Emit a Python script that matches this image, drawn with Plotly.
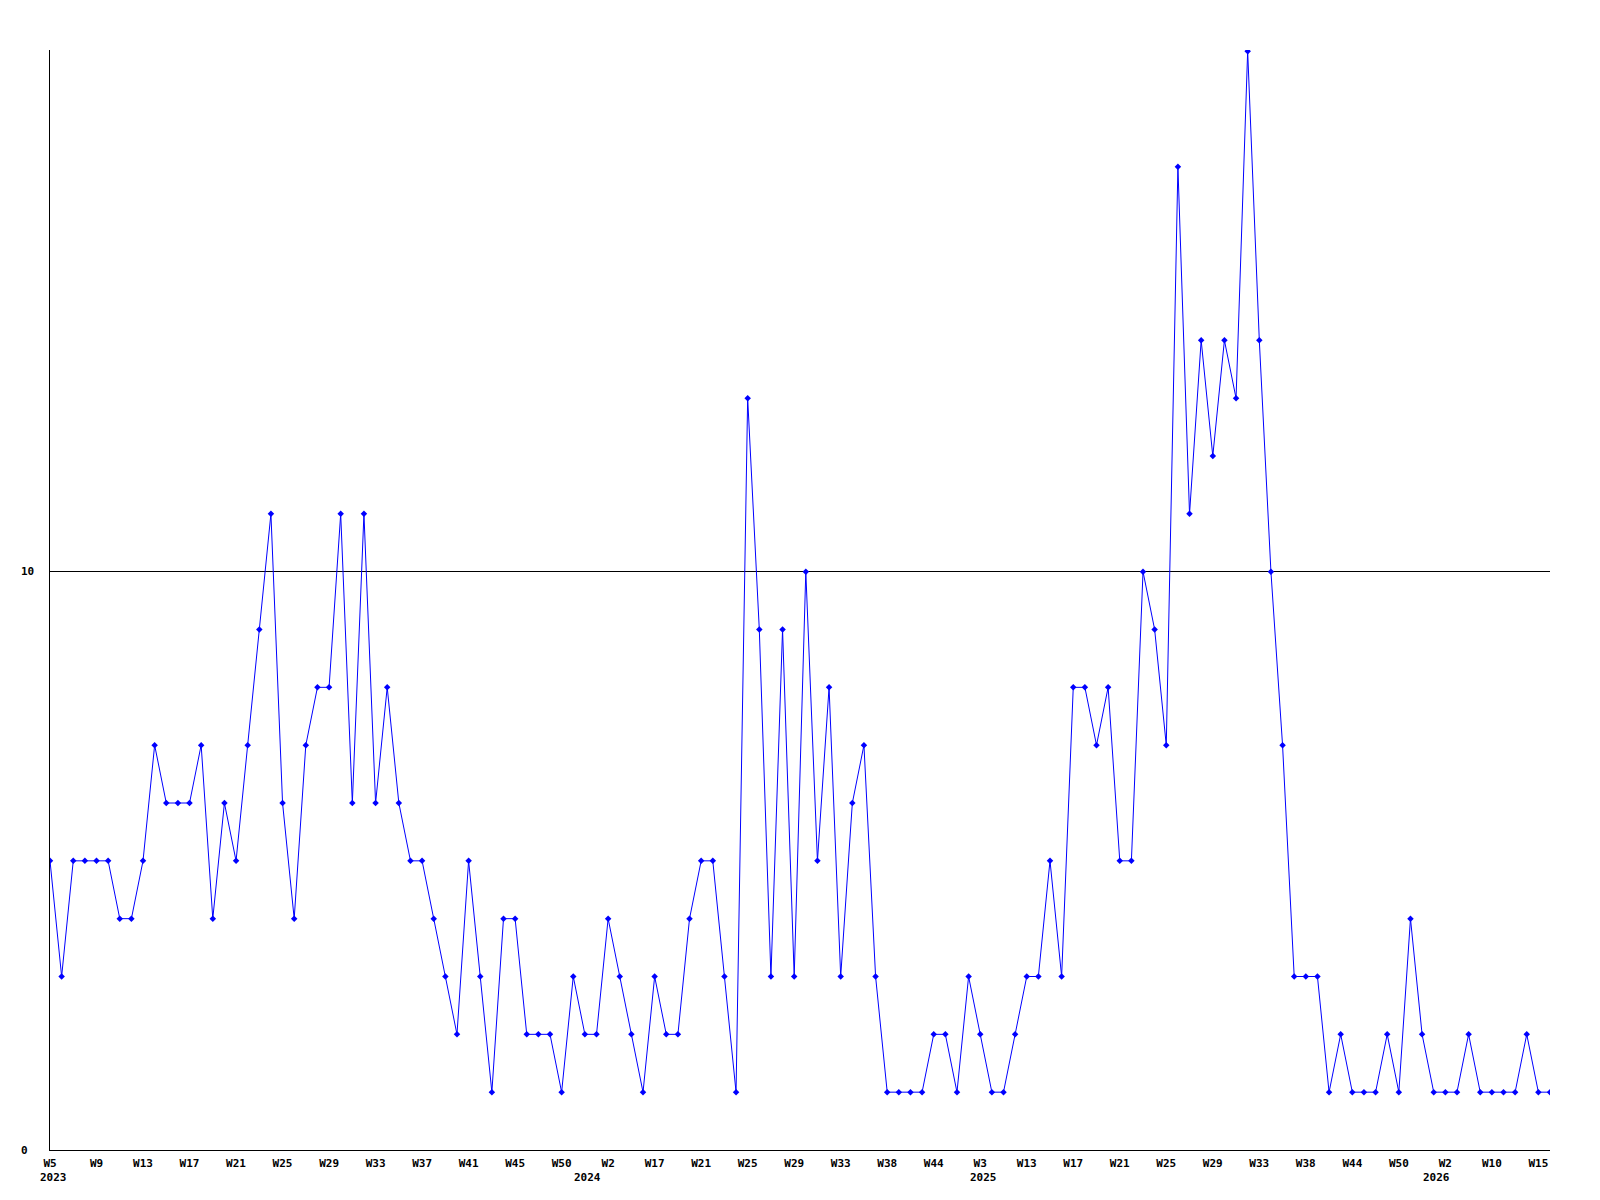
import plotly.graph_objects as go

values = [5, 3, 5, 5, 5, 5, 4, 4, 5, 7,
          6, 6, 6, 7, 4, 6, 5, 7, 9, 11,
          6, 4, 7, 8, 8, 11, 6, 11, 6, 8,
          6, 5, 5, 4, 3, 2, 5, 3, 1, 4,
          4, 2, 2, 2, 1, 3, 2, 2, 4, 3,
          2, 1, 3, 2, 2, 4, 5, 5, 3, 1,
          13, 9, 3, 9, 3, 10, 5, 8, 3, 6,
          7, 3, 1, 1, 1, 1, 2, 2, 1, 3,
          2, 1, 1, 2, 3, 3, 5, 3, 8, 8,
          7, 8, 5, 5, 10, 9, 7, 17, 11, 14,
          12, 14, 13, 19, 14, 10, 7, 3, 3, 3,
          1, 2, 1, 1, 1, 2, 1, 4, 2, 1,
          1, 1, 2, 1, 1, 1, 1, 2, 1, 1]

week_tick_labels = ["W5", "W9", "W13", "W17", "W21", "W25", "W29", "W33", "W37", "W41", "W45",
                    "W50", "W2", "W17", "W21", "W25", "W29", "W33", "W38", "W44",
                    "W3", "W13", "W17", "W21", "W25", "W29", "W33", "W38", "W44", "W50",
                    "W2", "W10", "W15"]
week_tick_positions = list(range(0, 129, 4))

year_labels = ["2023", "2024", "2025", "2026"]
year_positions = [0, 46, 80, 119]

y_tick_vals = [0, 10]
y_tick_text = ["0", "10"]

x = list(range(len(values)))

font_family = "DejaVu Sans Mono"
tick_font = dict(family=font_family, size=11, color="black", weight="bold")

fig = go.Figure()
fig.add_trace(go.Scatter(
    x=x, y=values, mode="lines+markers",
    line=dict(color="#0000ff", width=1),
    marker=dict(symbol="diamond", size=5, color="#0000ff"),
    showlegend=False, hoverinfo="y",
))

annotations = []
for v, t in zip(y_tick_vals, y_tick_text):
    annotations.append(dict(
        x=0, y=v, xref="paper", yref="y", text=t, showarrow=False,
        xanchor="left", yanchor="middle", xshift=-31, font=tick_font,
    ))
for i, (lab, pos) in enumerate(zip(year_labels, year_positions)):
    annotations.append(dict(
        x=pos, y=0, xref="x", yref="paper", text=lab, showarrow=False,
        xanchor="left" if i == 0 else "center", yanchor="middle",
        xshift=-12 if i == 0 else 3, yshift=-27, font=tick_font,
    ))

fig.update_layout(
    width=1600, height=1200,
    margin=dict(l=42, r=58, t=42, b=58),
    paper_bgcolor="white", plot_bgcolor="white",
    annotations=annotations,
    xaxis=dict(
        range=[0, len(values) - 1], tickmode="array",
        tickvals=week_tick_positions, ticktext=week_tick_labels,
        showgrid=False, zeroline=False, showline=True, linecolor="black", linewidth=1,
        ticks="", tickfont=tick_font, ticklabelstandoff=3, fixedrange=True,
    ),
    yaxis=dict(
        range=[0, 19.02], tickmode="array", tickvals=y_tick_vals,
        showticklabels=False, showgrid=True, gridcolor="black", gridwidth=1,
        zeroline=False, showline=True, linecolor="black", linewidth=1,
        ticks="", fixedrange=True,
    ),
)

fig.write_html("out.html")
